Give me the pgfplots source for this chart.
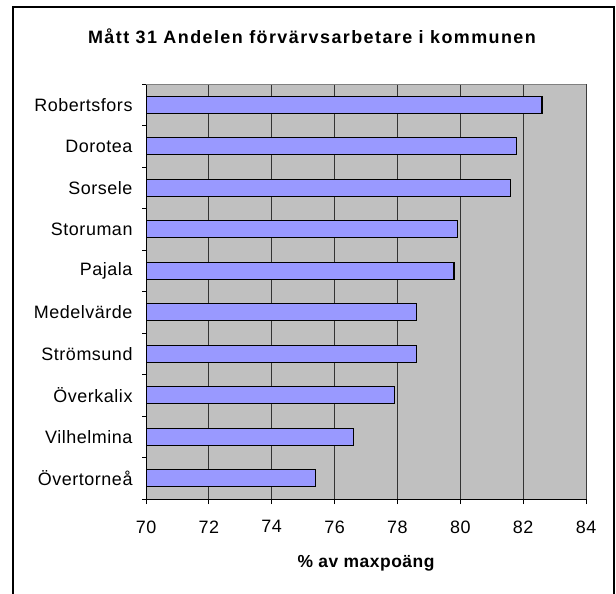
\documentclass[border=0pt]{standalone}
\usepackage{fontspec}
\setmainfont[LetterSpace=3]{Liberation Sans}
\usepackage{pgfplots}
\pgfplotsset{compat=1.18}
\definecolor{barfill}{HTML}{9999FF}
\definecolor{plotbg}{HTML}{C0C0C0}
\definecolor{gridc}{HTML}{333333}
\begin{document}
\begin{tikzpicture}
\useasboundingbox (0,0) rectangle (616bp,-594bp);
\draw[line width=2bp] (13bp,-600bp) -- (13bp,-7bp) -- (614bp,-7bp) -- (614bp,-600bp);
\node[font=\fontsize{18}{20}\selectfont\bfseries\addfontfeature{LetterSpace=8}] at (312bp,-36bp) {Mått 31 Andelen förvärvsarbetare i kommunen};
\begin{axis}[
    at={(146bp,-499bp)}, anchor=south west,
    scale only axis,
    width=440bp, height=415bp,
    xbar, bar width=17bp,
    xmin=70, xmax=84,
    ymin=-0.5, ymax=9.5,
    xtick={70,72,...,84},
    ytick={0,...,9},
    yticklabels={Övertorneå,Vilhelmina,Överkalix,Strömsund,Medelvärde,Pajala,Storuman,Sorsele,Dorotea,Robertsfors},
    minor ytick={-0.5,0.5,...,9.5},
    major y tick style={draw=none},
    tick align=outside,
    major tick length=5bp, minor tick length=4bp,
    axis lines*=left,
    axis line style={black, line width=0.9bp},
    axis background/.style={fill=plotbg},
    xmajorgrids, grid style={gridc, line width=0.8bp},
    tick style={black, line width=0.9bp},
    tick label style={font=\fontsize{18}{20}\selectfont},
    /pgf/number format/assume math mode=true,
    xticklabel style={yshift=-13bp},
    yticklabel style={xshift=-5bp},
    xlabel={\% av maxpoäng},
    xlabel style={font=\fontsize{17.5}{20}\selectfont\bfseries, at={(rel axis cs:0.5,0)}, anchor=center, yshift=-64bp},
    clip=true,
]
\addplot[fill=barfill, draw=black, line width=1.1bp] coordinates {
    (75.4,0) (76.6,1) (77.9,2) (78.6,3) (78.6,4)
    (79.8,5) (79.9,6) (81.6,7) (81.8,8) (82.6,9)
};
\draw[gray, line width=0.9bp] (rel axis cs:0,1) -- (rel axis cs:1,1) -- (rel axis cs:1,0);
\end{axis}
\end{tikzpicture}
\end{document}
